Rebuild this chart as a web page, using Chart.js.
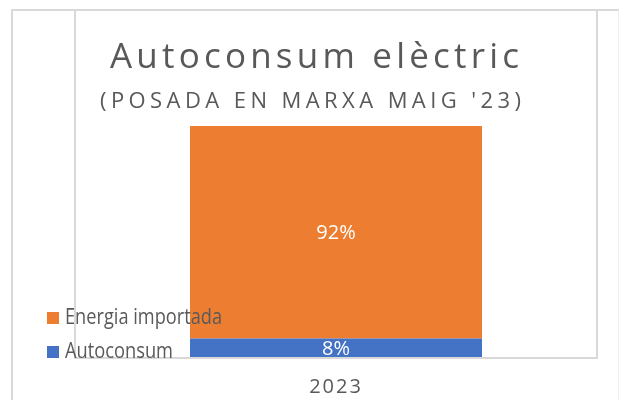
<!DOCTYPE html>
<html><head><meta charset="utf-8">
<script src="https://cdn.jsdelivr.net/npm/chart.js@4/dist/chart.umd.min.js"></script>
<style>html,body{margin:0;padding:0;background:#fff;overflow:hidden}canvas{display:block}</style>
</head><body>
<canvas id="c" width="619" height="400"></canvas>
<script>
// ---- data ----
const categories = ['2023'];
const seriesNames = ['Autoconsum', 'Energia importada'];
const autoconsum = [8];
const energiaImportada = [92];
const titleText = 'Autoconsum elèctric';
const subtitleText = "(POSADA EN MARXA MAIG '23)";

// ---- styles ----
const BLUE = '#4472C4', ORANGE = '#ED7D31', TEXT = '#595959', LINE = '#d9d9d9';
const FONT = '"Open Sans", "Liberation Sans", sans-serif';

function fitText(ctx, text, left, right, baseline, font, color) {
  ctx.save();
  ctx.font = font; ctx.fillStyle = color;
  ctx.textAlign = 'left'; ctx.textBaseline = 'alphabetic';
  ctx.letterSpacing = '0px';
  const w = ctx.measureText(text).width;
  const target = right - left;
  const n = [...text].length;
  if (w < target && n > 1) {
    ctx.letterSpacing = ((target - w) / (n - 1)) + 'px';
    ctx.fillText(text, left, baseline);
  } else {
    ctx.fillText(text, left, baseline, target);
  }
  ctx.restore();
}

const decor = {
  id: 'decor',
  beforeDraw(chart) {
    const ctx = chart.ctx, a = chart.chartArea;
    ctx.save();
    ctx.strokeStyle = LINE; ctx.lineWidth = 2;
    ctx.beginPath();
    ctx.moveTo(12, 400); ctx.lineTo(12, 10); ctx.lineTo(619, 10);
    ctx.stroke();
    ctx.strokeStyle = '#efefef'; ctx.lineWidth = 1;
    ctx.beginPath(); ctx.moveTo(618.5, 10); ctx.lineTo(618.5, 400); ctx.stroke();
    ctx.strokeStyle = LINE; ctx.lineWidth = 2;
    ctx.beginPath();
    ctx.moveTo(a.left, 10); ctx.lineTo(a.left, a.bottom + 1);
    ctx.lineTo(a.right, a.bottom + 1); ctx.lineTo(a.right, 10);
    ctx.stroke();
    ctx.restore();
    ctx.letterSpacing = '2px'; // for the category tick label
  },
  afterDraw(chart) {
    const ctx = chart.ctx;
    ctx.letterSpacing = '0px';
    fitText(ctx, titleText, 110, 519, 68, '35px ' + FONT, TEXT);
    fitText(ctx, subtitleText, 100, 521, 108, '22px ' + FONT, TEXT);
    const legend = [
      { name: seriesNames[1], color: ORANGE, top: 312, right: 222, baseline: 324 },
      { name: seriesNames[0], color: BLUE, top: 346, right: 173, baseline: 358 }
    ];
    legend.forEach(l => {
      ctx.fillStyle = l.color;
      ctx.fillRect(47, l.top, 12, 12);
      fitText(ctx, l.name, 65, l.right, l.baseline, '21px ' + FONT, TEXT);
    });
    ctx.save();
    ctx.font = '20px ' + FONT; ctx.fillStyle = '#ffffff';
    ctx.textAlign = 'center'; ctx.textBaseline = 'alphabetic';
    chart.data.datasets.forEach((ds, i) => {
      chart.getDatasetMeta(i).data.forEach((el, j) => {
        const cy = (el.y + el.base) / 2;
        ctx.fillText(ds.data[j] + '%', el.x, cy + 7);
      });
    });
    ctx.restore();
  }
};

new Chart(document.getElementById('c'), {
  type: 'bar',
  data: {
    labels: categories,
    datasets: [
      { label: seriesNames[0], data: autoconsum, backgroundColor: BLUE },
      { label: seriesNames[1], data: energiaImportada, backgroundColor: ORANGE }
    ]
  },
  options: {
    responsive: false,
    devicePixelRatio: 1,
    animation: false,
    layout: { padding: { left: 75, right: 22, top: 126, bottom: -17 } },
    plugins: { legend: { display: false }, tooltip: { enabled: false }, title: { display: false } },
    datasets: { bar: { categoryPercentage: 1, barPercentage: 292 / 522 } },
    scales: {
      x: {
        stacked: true,
        grid: { display: false, drawTicks: false },
        border: { display: false },
        ticks: { color: TEXT, font: { family: FONT, size: 20 }, padding: 18 }
      },
      y: { stacked: true, display: false, min: 0, max: 100 }
    }
  },
  plugins: [decor]
});
</script>
</body></html>
